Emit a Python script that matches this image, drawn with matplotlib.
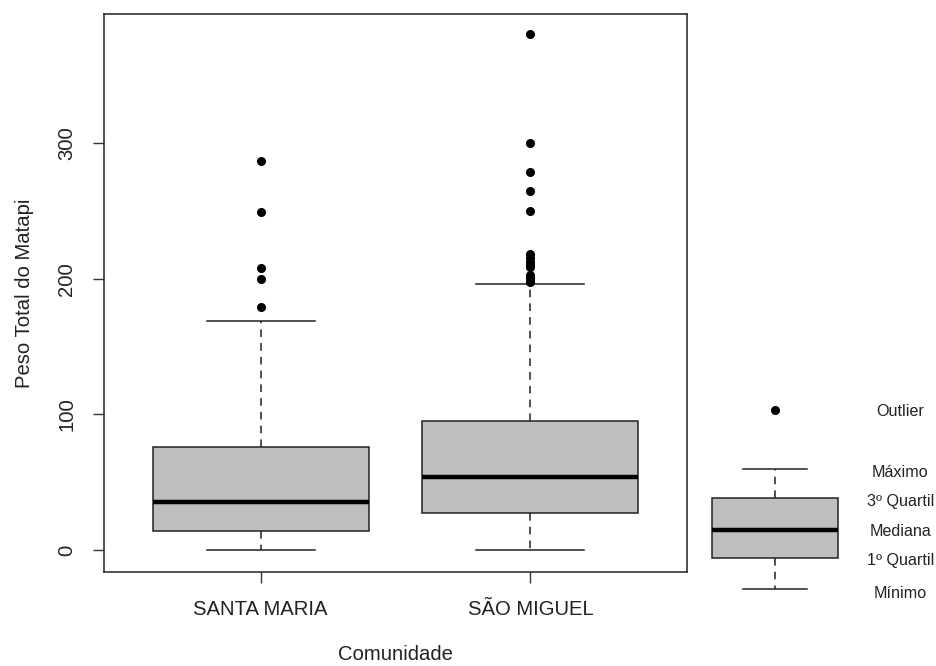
import matplotlib.pyplot as plt

plt.rcParams['font.family'] = ['Liberation Sans', 'DejaVu Sans']

# data
comunidades = ['SANTA MARIA', 'SÃO MIGUEL']
whis_lo = [0, 0]
q1 = [14, 27.5]
mediana = [35.5, 53.6]
q3 = [76, 95.3]
whis_hi = [169, 196]
outliers = [
    [179, 199.5, 207.6, 249.3, 286.7],
    [197.7, 199.5, 201.4, 203, 208.8, 210.5, 212.5, 215, 218.6, 250.3, 264.8, 278.6, 300.2, 380.2],
]

# schematic legend box
leg_stats = {'whislo': -28.7, 'q1': -5.9, 'med': 14.7, 'q3': 38.3, 'whishi': 59.7, 'fliers': [103]}
leg_labels = ['Outlier', 'Máximo', '3º Quartil', 'Mediana', '1º Quartil', 'Mínimo']
leg_label_y = [102, 57.5, 36, 14, -8, -31.7]

fig = plt.figure(figsize=(9.37, 6.66), dpi=100)
ax = fig.add_axes([104/937, 94/666, 583/937, 558/666])

stats = []
for i in range(len(comunidades)):
    stats.append({'whislo': whis_lo[i], 'q1': q1[i], 'med': mediana[i], 'q3': q3[i],
                  'whishi': whis_hi[i], 'fliers': outliers[i], 'label': comunidades[i]})

box_style = dict(
    patch_artist=True, manage_ticks=False,
    boxprops=dict(facecolor='#bebebe', edgecolor='#222222', linewidth=1.1),
    medianprops=dict(color='black', linewidth=3.2, solid_capstyle='butt'),
    whiskerprops=dict(color='#222222', linewidth=1.1, linestyle=(0, (5, 4))),
    capprops=dict(color='#222222', linewidth=1.1),
    flierprops=dict(marker='o', markerfacecolor='black', markeredgecolor='black', markersize=5.5),
)

ax.bxp(stats, positions=[1, 2], widths=0.8, capwidths=0.4, **box_style)

leg = ax.bxp([leg_stats], positions=[2.907], widths=0.467, capwidths=0.237, **box_style)
for key in leg:
    for art in leg[key]:
        art.set_clip_on(False)

for lab, yy in zip(leg_labels, leg_label_y):
    ax.text(3.37, yy, lab, ha='center', va='center', fontsize=11.6, color='#222222')

ax.set_xlim(0.42, 2.58)
ax.set_ylim(-16.2, 395.2)
ax.set_xticks([1, 2])
ax.set_xticklabels(comunidades, fontsize=14.6, color='#222222')
ax.set_yticks([0, 100, 200, 300])
ax.set_yticklabels(['0', '100', '200', '300'], rotation=90, va='center', fontsize=14.6, color='#222222')
ax.tick_params(length=8, width=1, color='#333333', pad=12)
for s in ax.spines.values():
    s.set_color('#222222')
    s.set_linewidth(1.1)

ax.set_xlabel('Comunidade', fontsize=14.6, labelpad=19, color='#222222')
ax.set_ylabel('Peso Total do Matapi', fontsize=14.6, labelpad=17, color='#222222')

fig.savefig('out.png', dpi=100)
